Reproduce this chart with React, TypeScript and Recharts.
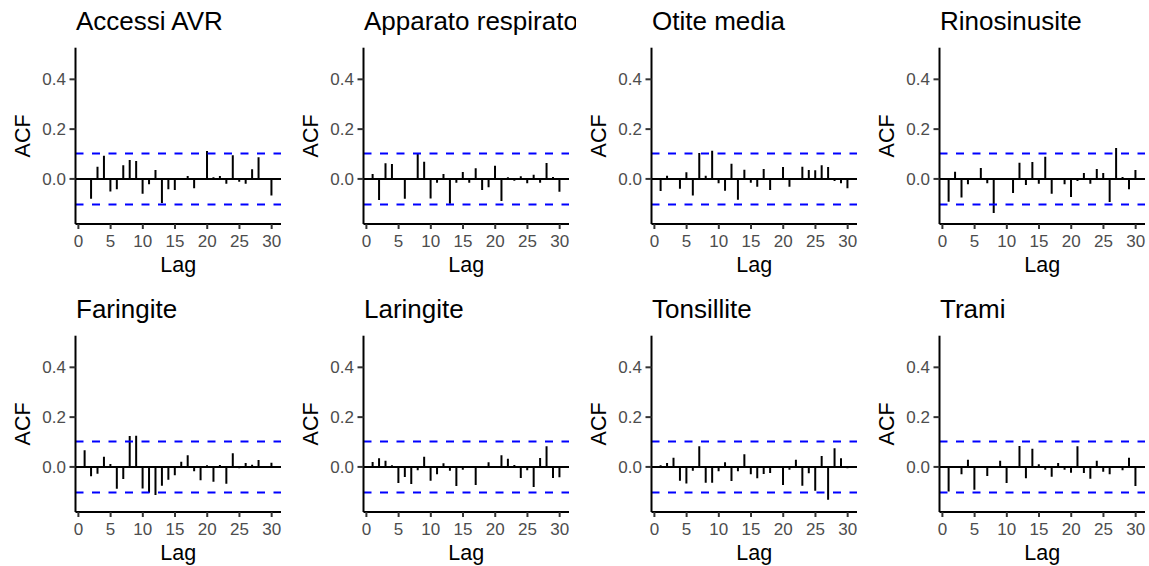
import React from 'react';
import { ComposedChart, Bar, XAxis, YAxis, ReferenceLine } from 'recharts';

// Autocorrelation (ACF) of the daily series, lags 1..30
const lags = [1, 2, 3, 4, 5, 6, 7, 8, 9, 10, 11, 12, 13, 14, 15, 16, 17, 18, 19, 20, 21, 22, 23, 24, 25, 26, 27, 28, 29, 30];

const accessiAvr = [-0.003, -0.08, 0.049, 0.093, -0.05, -0.041, 0.055, 0.076, 0.072, -0.06, -0.021, 0.036, -0.097, -0.041, -0.044, -0.003, 0.012, -0.037, 0.002, 0.112, 0.007, 0.012, -0.019, 0.095, -0.011, -0.019, 0.039, 0.087, -0.002, -0.067];
const apparatoRespiratorio = [0.02, -0.085, 0.063, 0.06, -0.003, -0.08, 0.002, 0.101, 0.069, -0.079, -0.015, 0.02, -0.1, -0.015, 0.028, -0.015, 0.043, -0.044, -0.033, 0.053, -0.089, 0.007, -0.007, 0.011, -0.017, 0.017, -0.015, 0.064, 0.008, -0.051];
const otiteMedia = [-0.048, 0.013, 0, -0.039, 0.027, -0.067, 0.104, 0.013, 0.113, -0.017, -0.047, 0.061, -0.084, 0.037, -0.015, -0.031, 0.04, -0.044, 0.001, 0.048, -0.031, 0.001, 0.049, 0.036, 0.035, 0.055, 0.048, -0.008, -0.017, -0.037];
const rinosinusite = [-0.092, 0.029, -0.075, -0.021, 0.001, 0.044, -0.017, -0.137, 0.001, -0.002, -0.057, 0.065, -0.024, 0.068, -0.019, 0.089, -0.06, 0.001, -0.021, -0.073, -0.008, 0.024, -0.019, 0.04, 0.024, -0.093, 0.124, 0.008, -0.041, 0.036];
const faringite = [0.067, -0.037, -0.027, 0.041, 0.012, -0.088, -0.048, 0.124, 0.125, -0.087, -0.104, -0.113, -0.076, -0.051, -0.033, 0.021, 0.047, -0.017, -0.053, 0.007, -0.06, 0.008, -0.068, 0.055, -0.005, 0.016, 0.009, 0.028, 0.001, 0.017];
const laringite = [0.02, 0.035, 0.025, 0.007, -0.065, -0.04, -0.069, -0.013, 0.041, -0.056, -0.029, 0.015, -0.015, -0.077, -0.011, 0.001, -0.073, 0.001, 0.019, 0.001, 0.047, 0.033, 0.008, -0.044, -0.013, -0.081, 0.036, 0.083, -0.044, -0.041];
const tonsillite = [0.007, 0.016, 0.037, -0.056, -0.067, -0.015, 0.083, -0.064, -0.064, -0.017, 0.019, -0.057, -0.017, 0.051, -0.029, -0.045, -0.028, -0.024, 0.001, -0.073, -0.011, 0.029, -0.076, -0.025, -0.096, 0.044, -0.132, 0.075, 0.035, -0.005];
const trami = [-0.099, 0.001, -0.029, 0.029, -0.092, 0.001, -0.036, -0.002, 0.025, -0.065, 0.001, 0.084, -0.045, 0.073, 0.011, -0.011, -0.039, 0.016, -0.011, -0.023, 0.083, -0.024, -0.047, 0.025, -0.019, -0.029, 0.001, -0.013, 0.037, -0.077];

const titles = ['Accessi AVR', 'Apparato respiratorio', 'Otite media', 'Rinosinusite', 'Faringite', 'Laringite', 'Tonsillite', 'Trami'];
const series = [accessiAvr, apparatoRespiratorio, otiteMedia, rinosinusite, faringite, laringite, tonsillite, trami];

// 95% significance bound
const ciBound = 0.1026;

const xTicks = [0, 5, 10, 15, 20, 25, 30];
const yTicks = [0, 0.2, 0.4];

const FONT = '"Liberation Sans", Arial, Helvetica, sans-serif';
const CELL = 288;

function AcfPanel({ title, values, left, top }: { title: string; values: number[]; left: number; top: number }) {
  const data = lags.map((lag, i) => ({ lag, acf: values[i] }));
  return (
    <div style={{ position: 'absolute', left, top, width: CELL, height: CELL, overflow: 'hidden', fontFamily: FONT }}>
      <ComposedChart
        width={CELL}
        height={CELL}
        data={data}
        margin={{ top: 47.7, right: 7, bottom: 24, left: 15.5 }}
        style={{ fontFamily: FONT }}
      >
        <XAxis
          dataKey="lag"
          type="number"
          domain={[-0.45, 31.45]}
          ticks={xTicks}
          interval={0}
          allowDataOverflow
          height={40}
          tickSize={5}
          tickMargin={6}
          axisLine={{ stroke: '#000000', strokeWidth: 2 }}
          tickLine={{ stroke: '#333333', strokeWidth: 2 }}
          tick={{ fill: '#4D4D4D', fontSize: 17, fontFamily: FONT }}
        />
        <YAxis
          type="number"
          domain={[-0.181, 0.527]}
          ticks={yTicks}
          interval={0}
          allowDataOverflow
          width={60}
          tickSize={6}
          tickMargin={3.5}
          tickFormatter={(v: number) => v.toFixed(1)}
          axisLine={{ stroke: '#000000', strokeWidth: 2 }}
          tickLine={{ stroke: '#333333', strokeWidth: 2 }}
          tick={{ fill: '#4D4D4D', fontSize: 17, fontFamily: FONT }}
        />
        <ReferenceLine y={0} stroke="#000000" strokeWidth={2} />
        <ReferenceLine y={ciBound} stroke="#0000FF" strokeWidth={2} strokeDasharray="8 8.5" />
        <ReferenceLine y={-ciBound} stroke="#0000FF" strokeWidth={2} strokeDasharray="8 8.5" />
        <Bar dataKey="acf" fill="#000000" barSize={2} isAnimationActive={false} />
      </ComposedChart>
      <svg
        width={CELL}
        height={CELL}
        style={{ position: 'absolute', left: 0, top: 0, pointerEvents: 'none', fontFamily: FONT }}
      >
        <text x={76} y={30} fontSize={26} fill="#000000">{title}</text>
        <text transform="translate(30,135.9) rotate(-90)" textAnchor="middle" fontSize={21.5} fill="#000000">ACF</text>
        <text x={178.3} y={271.7} textAnchor="middle" fontSize={21.5} fill="#000000">Lag</text>
      </svg>
    </div>
  );
}

export default function App() {
  return (
    <div style={{ position: 'absolute', left: 0, top: 0, width: 1149, height: 566, overflow: 'hidden', background: '#ffffff' }}>
      {titles.map((t, i) => (
        <AcfPanel key={t} title={t} values={series[i]} left={(i % 4) * CELL} top={Math.floor(i / 4) * CELL} />
      ))}
    </div>
  );
}
